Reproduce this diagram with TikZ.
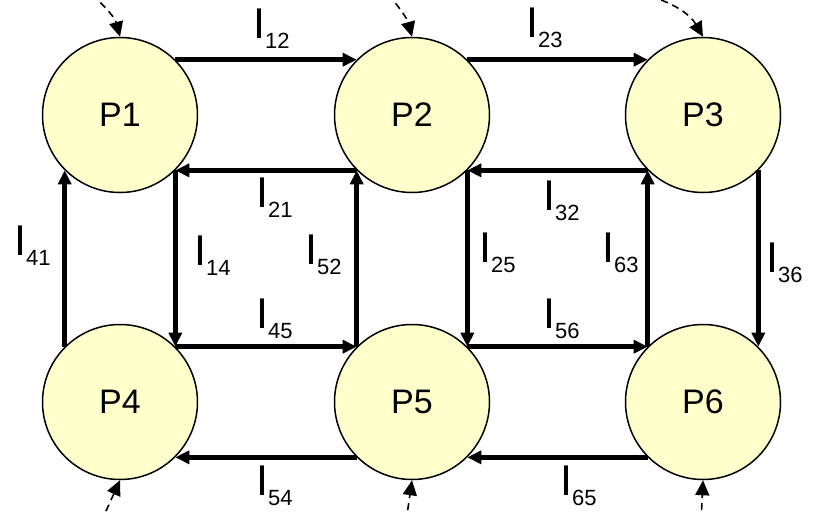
\documentclass[tikz,border=0pt]{standalone}
\usepackage{fontspec}
\setmainfont{Liberation Sans}
\usetikzlibrary{arrows.meta}
\definecolor{nodefill}{HTML}{FFFFCC}
\newcommand\curlab[1]{{\fontsize{43}{43}\selectfont I}\raisebox{-10pt}{\fontsize{22}{22}\selectfont #1}}
\begin{document}
\begin{tikzpicture}[x=1pt,y=-1pt,
  proc/.style={circle,draw,line width=1.5pt,fill=nodefill,minimum size=155pt,inner sep=0pt,font=\fontsize{34}{34}\selectfont},
  flow/.style={line width=4.5pt,-{Triangle[length=14pt,width=13pt]}},
  ext/.style={line width=1.6pt,dash pattern=on 7pt off 5pt,-{Triangle[length=15pt,width=14pt]}},
  lab/.style={anchor=base west,inner sep=0pt}]
\useasboundingbox (0,0) rectangle (813,512);
\node[proc] (P1) at (120,115) {P1};
\node[proc] (P2) at (412,115) {P2};
\node[proc] (P3) at (703,115) {P3};
\node[proc] (P4) at (120,402) {P4};
\node[proc] (P5) at (412,402) {P5};
\node[proc] (P6) at (703,402) {P6};
% horizontal flows
\draw[flow] (P1.north east) -- (P2.north west);
\draw[flow] (P2.north east) -- (P3.north west);
\draw[flow] (P2.south west) -- (P1.south east);
\draw[flow] (P3.south west) -- (P2.south east);
\draw[flow] (P4.north east) -- (P5.north west);
\draw[flow] (P5.north east) -- (P6.north west);
\draw[flow] (P5.south west) -- (P4.south east);
\draw[flow] (P6.south west) -- (P5.south east);
% vertical flows
\draw[flow] (P4.north west) -- (P1.south west);
\draw[flow] (P1.south east) -- (P4.north east);
\draw[flow] (P5.north west) -- (P2.south west);
\draw[flow] (P2.south east) -- (P5.north east);
\draw[flow] (P6.north west) -- (P3.south west);
\draw[flow] (P3.south east) -- (P6.north east);
% external inputs
\coordinate (t1) at (92,-6);
\coordinate (t2) at (388,-6);
\coordinate (t3) at (650,-4);
\coordinate (b4) at (101,522);
\coordinate (b5) at (406,522);
\coordinate (b6) at (701,522);
\draw[ext] (t1) to[out=-45,in=105] (P1.north);
\draw[ext] (t2) to[out=-50,in=105] (P2.north);
\draw[ext] (t3) to[out=-18,in=120] (P3.north);
\draw[ext] (b4) -- (P4.south);
\draw[ext] (b5) -- (P5.south);
\draw[ext] (b6) -- (P6.south);
% labels
\node[lab] (l12) at (253,38) {\curlab{12}};
\node[lab] (l23) at (526,37) {\curlab{23}};
\node[lab] (l21) at (256,207) {\curlab{21}};
\node[lab] (l32) at (543,210) {\curlab{32}};
\node[lab] (l14) at (194,265) {\curlab{14}};
\node[lab] (l52) at (305,264) {\curlab{52}};
\node[lab] (l25) at (479,262) {\curlab{25}};
\node[lab] (l63) at (602,262) {\curlab{63}};
\node[lab] (l36) at (766,272) {\curlab{36}};
\node[lab] (l41) at (14,255) {\curlab{41}};
\node[lab] (l45) at (256,328) {\curlab{45}};
\node[lab] (l56) at (543,328) {\curlab{56}};
\node[lab] (l54) at (256,495) {\curlab{54}};
\node[lab] (l65) at (560,495) {\curlab{65}};
\end{tikzpicture}
\end{document}
